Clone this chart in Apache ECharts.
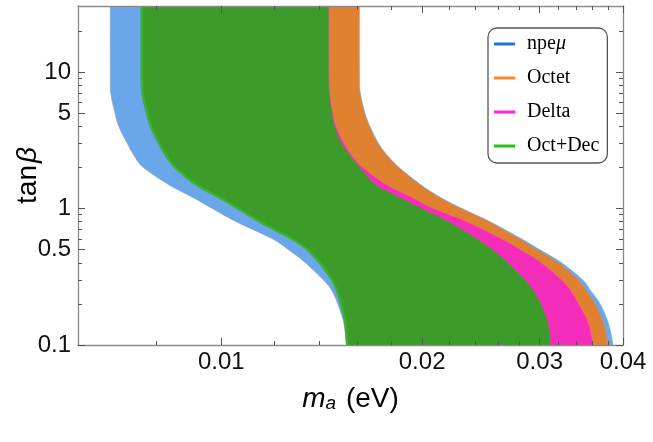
<!DOCTYPE html>
<html>
<head>
<meta charset="utf-8">
<title>tan beta vs m_a</title>
<script src="https://cdn.jsdelivr.net/npm/echarts@6/dist/echarts.min.js"></script>
<style>
  html, body { margin: 0; padding: 0; background: #fff; }
  #main { width: 653px; height: 442px; }
</style>
</head>
<body>
<div id="main"></div>
<script type="text/javascript">
    // tan(beta) rows shared by every boundary curve (top row sits above the frame and is clipped)
    var tanBeta = [40, 10, 7, 5, 4, 3, 2.5, 2, 1.5, 1.2, 1, 0.8, 0.6, 0.5, 0.4, 0.3, 0.25, 0.2, 0.15, 0.12, 0.1];

    // m_a (eV) on the left / right edge of each allowed band, one value per tanBeta row
    var npeLeft     = [0.00682, 0.00682, 0.00683, 0.00693, 0.00702, 0.00723, 0.00738, 0.00764, 0.00833, 0.00908, 0.00969, 0.01053, 0.01193, 0.01260, 0.01337, 0.01422, 0.01465, 0.01495, 0.01524, 0.01535, 0.01540];
    var npeRight    = [0.01611, 0.01611, 0.01616, 0.01642, 0.01670, 0.01720, 0.01768, 0.01846, 0.01988, 0.02134, 0.02295, 0.02528, 0.02818, 0.02999, 0.03236, 0.03479, 0.03577, 0.03696, 0.03793, 0.03839, 0.03863];
    var octDecLeft  = [0.00760, 0.00760, 0.00762, 0.00774, 0.00784, 0.00807, 0.00824, 0.00852, 0.00917, 0.00995, 0.01060, 0.01142, 0.01276, 0.01346, 0.01405, 0.01465, 0.01490, 0.01511, 0.01533, 0.01540, 0.01545];
    var octDecRight = [0.01446, 0.01446, 0.01449, 0.01462, 0.01475, 0.01511, 0.01551, 0.01608, 0.01696, 0.01849, 0.01988, 0.02183, 0.02409, 0.02539, 0.02682, 0.02843, 0.02928, 0.03004, 0.03073, 0.03099, 0.03108];
    var deltaRight  = [0.01447, 0.01447, 0.01452, 0.01467, 0.01483, 0.01524, 0.01561, 0.01625, 0.01759, 0.01928, 0.02069, 0.02323, 0.02621, 0.02797, 0.03010, 0.03228, 0.03332, 0.03426, 0.03534, 0.03577, 0.03598];
    var octetRight  = [0.01607, 0.01607, 0.01612, 0.01636, 0.01664, 0.01714, 0.01762, 0.01840, 0.01978, 0.02123, 0.02283, 0.02512, 0.02791, 0.02963, 0.03192, 0.03420, 0.03516, 0.03627, 0.03721, 0.03767, 0.03789];
    // Octet and Delta left edges lie under the Oct+Dec band
    var octetLeft = octDecLeft;
    var deltaLeft = octDecLeft;

    var xRange = [0.0061, 0.04];
    var yRange = [0.1, 30.4];
    var xMajor = [0.01, 0.02, 0.03, 0.04];
    var xMinor = [0.008, 0.012, 0.014, 0.016, 0.018, 0.022, 0.024, 0.026, 0.028, 0.032, 0.034, 0.036, 0.038];
    var yMajor = [0.1, 0.5, 1, 5, 10];
    var yMinor = [0.2, 0.3, 0.4, 0.6, 0.7, 0.8, 0.9, 2, 3, 4, 6, 7, 8, 9, 20];

    var FONT = 'Liberation Sans';
    var lg = Math.log10;

    // catmull-rom through pixel points -> svg path segments
    function curve(p, first) {
        var d = (first ? 'M' : 'L') + p[0][0] + ' ' + p[0][1];
        for (var i = 0; i < p.length - 1; i++) {
            var p0 = p[i - 1] || p[i], p1 = p[i], p2 = p[i + 1], p3 = p[i + 2] || p[i + 1];
            var c1 = [p1[0] + (p2[0] - p0[0]) / 6, p1[1] + (p2[1] - p0[1]) / 6];
            var c2 = [p2[0] - (p3[0] - p1[0]) / 6, p2[1] - (p3[1] - p1[1]) / 6];
            d += 'C' + c1[0] + ' ' + c1[1] + ' ' + c2[0] + ' ' + c2[1] + ' ' + p2[0] + ' ' + p2[1];
        }
        return d;
    }

    // x axis is linear in log10(m_a); y axis is a log axis
    function band(name, left, right, fill, edge) {
        var pts = [];
        for (var i = 0; i < tanBeta.length; i++) pts.push([lg(left[i]), tanBeta[i]]);
        for (var j = tanBeta.length - 1; j >= 0; j--) pts.push([lg(right[j]), tanBeta[j]]);
        return {
            name: name,
            type: 'custom',
            coordinateSystem: 'cartesian2d',
            xAxisIndex: 0,
            yAxisIndex: 0,
            clip: true,
            silent: true,
            data: pts,
            renderItem: function (params, api) {
                if (params.dataIndex !== 0) return;
                var l = left.map(function (x, i) { return api.coord([lg(x), tanBeta[i]]); });
                var r = right.map(function (x, i) { return api.coord([lg(x), tanBeta[i]]); }).reverse();
                var children = [{
                    type: 'path',
                    shape: { pathData: curve(l, true) + curve(r, false) + 'Z' },
                    style: { fill: fill, stroke: fill, lineWidth: 0.6 }
                }];
                if (edge) {
                    children.push({
                        type: 'path',
                        shape: { pathData: curve(l, true) },
                        style: { fill: null, stroke: edge, lineWidth: 2.5 }
                    });
                }
                return { type: 'group', children: children };
            }
        };
    }

    function fmt(v) { return String(Number(Number(v).toPrecision(6))); }

    function axis(kind, pos, ticks, len, withLabel, withLine) {
        var a = {
            position: pos,
            z: 5,
            axisLine: { show: withLine, onZero: false, lineStyle: { color: '#8a8a8a', width: 1.3 } },
            axisTick: { show: true, inside: true, length: len, lineStyle: { color: '#555', width: 1 } },
            axisLabel: { show: withLabel, color: '#111', fontFamily: FONT, fontSize: 24 },
            splitLine: { show: false },
            minorTick: { show: false }
        };
        if (kind === 'x') {
            a.type = 'value';
            a.min = lg(xRange[0]);
            a.max = lg(xRange[1]);
            a.axisTick.customValues = ticks.map(lg);
            a.axisLabel.customValues = ticks.map(lg);
            a.axisLabel.formatter = function (v) { return fmt(Math.pow(10, v)); };
            a.axisLabel.margin = 5;
        } else {
            a.type = 'log';
            a.logBase = 10;
            a.min = yRange[0];
            a.max = yRange[1];
            a.axisTick.customValues = ticks;
            a.axisLabel.customValues = ticks;
            a.axisLabel.formatter = fmt;
            a.axisLabel.margin = 7;
        }
        return a;
    }

    var xAxes = [
        axis('x', 'bottom', xMajor, 7, true, true),
        axis('x', 'bottom', xMinor, 4, false, false),
        axis('x', 'top', xMajor, 7, false, true),
        axis('x', 'top', xMinor, 4, false, false)
    ];
    xAxes[0].name = '{i|m}{s|a} (eV)';
    xAxes[0].nameLocation = 'middle';
    xAxes[0].nameGap = 40;
    xAxes[0].nameTextStyle = {
        color: '#000', fontFamily: FONT, fontSize: 28,
        rich: {
            i: { fontStyle: 'italic', fontFamily: FONT, fontSize: 28, color: '#000' },
            s: { fontStyle: 'italic', fontFamily: FONT, fontSize: 19, color: '#000', verticalAlign: 'bottom', padding: [0, 2, 0, 0] }
        }
    };

    var yAxes = [
        axis('y', 'left', yMajor, 7, true, true),
        axis('y', 'left', yMinor, 4, false, false),
        axis('y', 'right', yMajor, 7, false, true),
        axis('y', 'right', yMinor, 4, false, false)
    ];
    yAxes[0].name = 'tan{b|β}';
    yAxes[0].nameLocation = 'middle';
    yAxes[0].nameRotate = 90;
    yAxes[0].nameGap = 36;
    yAxes[0].nameMoveOverlap = false;
    yAxes[0].nameTextStyle = {
        color: '#000', fontFamily: FONT, fontSize: 28,
        rich: { b: { fontStyle: 'italic', fontFamily: FONT, fontSize: 28, color: '#000', padding: [0, 0, 0, 2] } }
    };

    var myChart = echarts.init(document.getElementById('main'), null, { renderer: 'canvas' });
    var option = {
        animation: false,
        backgroundColor: '#fff',
        grid: { left: 78, right: 30, top: 6, bottom: 97, containLabel: false },
        legend: {
            orient: 'vertical',
            left: 488,
            top: 28,
            padding: [6, 8, 7, 6],
            itemWidth: 21,
            itemHeight: 3,
            itemGap: 14,
            icon: 'rect',
            borderColor: '#555',
            borderWidth: 1.3,
            borderRadius: 9,
            backgroundColor: '#fff',
            selectedMode: false,
            formatter: function (name) { return name === 'npeμ' ? 'npe{i|μ}' : name; },
            textStyle: {
                fontFamily: 'Liberation Serif', fontSize: 20, color: '#000', padding: [0, 0, 0, 7], lineHeight: 20,
                rich: { i: { fontFamily: 'Liberation Serif', fontSize: 20, fontStyle: 'italic', color: '#000', lineHeight: 20 } }
            },
            data: [
                { name: 'npeμ', itemStyle: { color: '#1b74e4' } },
                { name: 'Octet', itemStyle: { color: '#f8892c' } },
                { name: 'Delta', itemStyle: { color: '#ff22e4' } },
                { name: 'Oct+Dec', itemStyle: { color: '#22c41a' } }
            ]
        },
        xAxis: xAxes,
        yAxis: yAxes,
        series: [
            band('npeμ', npeLeft, npeRight, '#69a7ea'),
            band('Octet', octetLeft, octetRight, '#e08130'),
            band('Delta', deltaLeft, deltaRight, '#f52bb9'),
            band('Oct+Dec', octDecLeft, octDecRight, '#3b9c29', '#3cb71b')
        ]
    };
    myChart.setOption(option);
</script>
</body>
</html>
